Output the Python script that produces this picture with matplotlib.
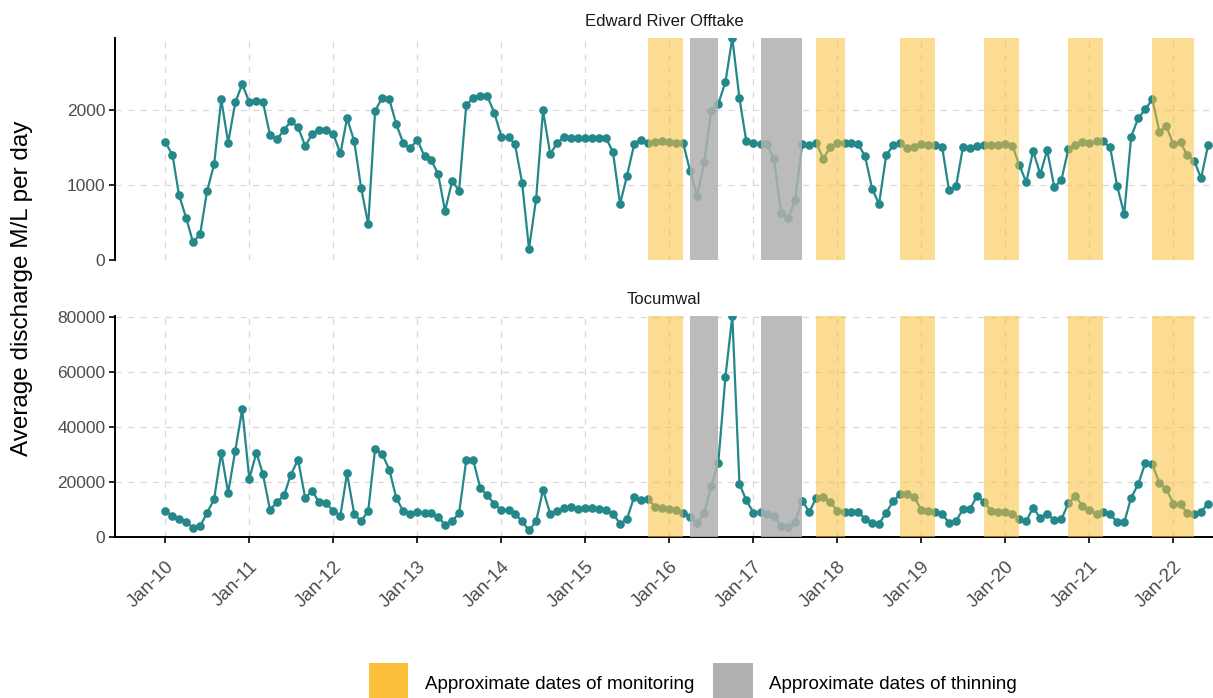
import numpy as np
import pandas as pd
import matplotlib
matplotlib.use("Agg")
import matplotlib.pyplot as plt
import matplotlib.dates as mdates
from matplotlib.patches import Patch

plt.rcParams["font.family"] = ["Liberation Sans", "DejaVu Sans"]

# monthly average discharge, Jan 2010 - Jun 2022
months = pd.date_range("2010-01-01", periods=150, freq="MS")

edward = [
    1570, 1400, 870, 565, 240, 340, 915, 1275, 2140, 1565,
    2100, 2345, 2105, 2125, 2110, 1665, 1610, 1735, 1850, 1770,
    1520, 1675, 1735, 1730, 1680, 1420, 1890, 1585, 965, 475,
    1990, 2165, 2140, 1810, 1555, 1495, 1600, 1380, 1335, 1145,
    655, 1055, 925, 2060, 2165, 2185, 2180, 1965, 1645, 1635,
    1545, 1030, 150, 815, 1995, 1415, 1555, 1645, 1625, 1620,
    1630, 1620, 1620, 1625, 1440, 750, 1120, 1540, 1600, 1565,
    1575, 1580, 1575, 1555, 1565, 1180, 855, 1300, 1980, 2080,
    2370, 2960, 2155, 1580, 1555, 1545, 1545, 1340, 620, 555,
    800, 1545, 1535, 1555, 1350, 1510, 1565, 1565, 1555, 1545,
    1385, 950, 745, 1395, 1530, 1555, 1490, 1500, 1540, 1530,
    1530, 1510, 935, 985, 1510, 1495, 1520, 1535, 1535, 1535,
    1540, 1525, 1270, 1040, 1450, 1145, 1465, 970, 1065, 1480,
    1535, 1575, 1565, 1580, 1585, 1500, 990, 610, 1645, 1890,
    2010, 2145, 1710, 1785, 1540, 1570, 1400, 1325, 1090, 1535,
]

tocumwal = [
    9500, 7650, 6400, 5600, 3300, 3900, 8700, 13800, 30700, 16000,
    31400, 46400, 21100, 30700, 22900, 9900, 12600, 15200, 22700, 28100,
    14100, 16800, 12600, 12200, 9500, 7800, 23100, 8400, 5700, 9500,
    32000, 30100, 24400, 14100, 9300, 8400, 9200, 8800, 8600, 7300,
    4500, 5800, 8600, 27800, 27800, 17800, 15200, 12000, 9800, 9900,
    8500, 5700, 2400, 5700, 17100, 8500, 9500, 10400, 10800, 10200,
    10700, 10700, 10300, 9700, 8500, 4800, 6500, 14500, 13600, 13700,
    10900, 10400, 10200, 9700, 8700, 7300, 5100, 8700, 18400, 26900,
    58100, 80300, 19300, 13300, 8800, 9000, 8500, 7500, 4000, 3800,
    5500, 13200, 9100, 14300, 14500, 12600, 9600, 9000, 9100, 9000,
    6700, 5100, 4800, 8800, 13100, 15500, 15500, 14500, 9900, 9300,
    9000, 8500, 5100, 5800, 10100, 10300, 15000, 12600, 9500, 9200,
    9000, 8500, 6700, 5800, 10700, 6800, 8500, 6100, 6500, 12200,
    14800, 11400, 9700, 8500, 9000, 8400, 5300, 5300, 14300, 19200,
    27000, 26400, 19600, 17500, 12100, 11900, 8700, 8200, 9200, 12100,
]

monitoring_start = ["2015-10-01", "2017-10-01", "2018-10-01", "2019-10-01", "2020-10-01", "2021-10-01"]
monitoring_end = ["2016-03-01", "2018-02-01", "2019-03-01", "2020-03-01", "2021-03-01", "2022-04-01"]
thinning_start = ["2016-04-01", "2017-02-01"]
thinning_end = ["2016-08-01", "2017-08-01"]

panels = [("Edward River Offtake", edward, [0, 1000, 2000]),
          ("Tocumwal", tocumwal, [0, 20000, 40000, 60000, 80000])]

line_col = "#24878A"
mon_col = "#FBBF3A"
thin_col = "#B0B0B0"
tick_col = "#4D4D4D"

W, H = 1213, 698
fig = plt.figure(figsize=(W / 100, H / 100), dpi=100)

# panel boxes in pixels: (top, bottom)
boxes = [(38, 260), (316, 537)]
x_left, x_right = 115, 1213
xlim = (pd.Timestamp("2009-05-27"), pd.Timestamp("2022-06-22"))
year_ticks = pd.date_range("2010-01-01", "2022-01-01", freq="YS")

for i, ((title, vals, yticks), (top, bot)) in enumerate(zip(panels, boxes)):
    ax = fig.add_axes([x_left / W, 1 - bot / H, (x_right - x_left) / W, (bot - top) / H])
    ax.plot(months, vals, color=line_col, lw=1.6, marker="o", ms=5.2, zorder=2)
    for s, e in zip(monitoring_start, monitoring_end):
        ax.axvspan(pd.Timestamp(s), pd.Timestamp(e), color=mon_col, alpha=0.55, lw=0, zorder=3)
    for s, e in zip(thinning_start, thinning_end):
        ax.axvspan(pd.Timestamp(s), pd.Timestamp(e), color=thin_col, alpha=0.85, lw=0, zorder=3)

    ax.set_xlim(xlim)
    ax.set_ylim(0, max(vals))
    ax.set_xticks(year_ticks)
    ax.xaxis.set_major_formatter(mdates.DateFormatter("Jan-%y"))
    ax.set_yticks(yticks)
    ax.grid(True, color="#D9D9D9", ls=(0, (5, 5)), lw=0.9, zorder=0)
    ax.set_axisbelow(True)
    for sp in ["top", "right"]:
        ax.spines[sp].set_visible(False)
    ax.spines["left"].set_linewidth(1.4)
    ax.spines["left"].set_color("black")
    ax.tick_params(axis="y", labelsize=12.5, labelcolor=tick_col, length=4, width=1.2, pad=3)
    ax.set_title(title, fontsize=12, pad=8.5, color="#1A1A1A")
    if i == 0:
        ax.spines["bottom"].set_visible(False)
        ax.tick_params(axis="x", length=0, labelbottom=False)
    else:
        ax.spines["bottom"].set_linewidth(1.4)
        ax.spines["bottom"].set_color("black")
        ax.tick_params(axis="x", labelsize=13.5, labelcolor=tick_col, length=4, width=1.2, pad=11)
        for lab in ax.get_xticklabels():
            lab.set_rotation(45)
            lab.set_ha("right")
            lab.set_rotation_mode("anchor")

fig.text(22 / W, 1 - 288 / H, "Average discharge M/L per day", rotation=90,
         ha="center", va="center", fontsize=17.5, color="black")

handles = [Patch(facecolor=mon_col, edgecolor="none", label="Approximate dates of monitoring"),
           Patch(facecolor=thin_col, edgecolor="none", label="Approximate dates of thinning")]
fig.legend(handles=handles, loc="center", bbox_to_anchor=(693 / W, 1 - 684 / H), ncol=2,
           frameon=False, fontsize=13.5, handlelength=2.1, handleheight=3.0,
           handletextpad=0.9, columnspacing=1.0)

fig.savefig("out.png", dpi=100)
